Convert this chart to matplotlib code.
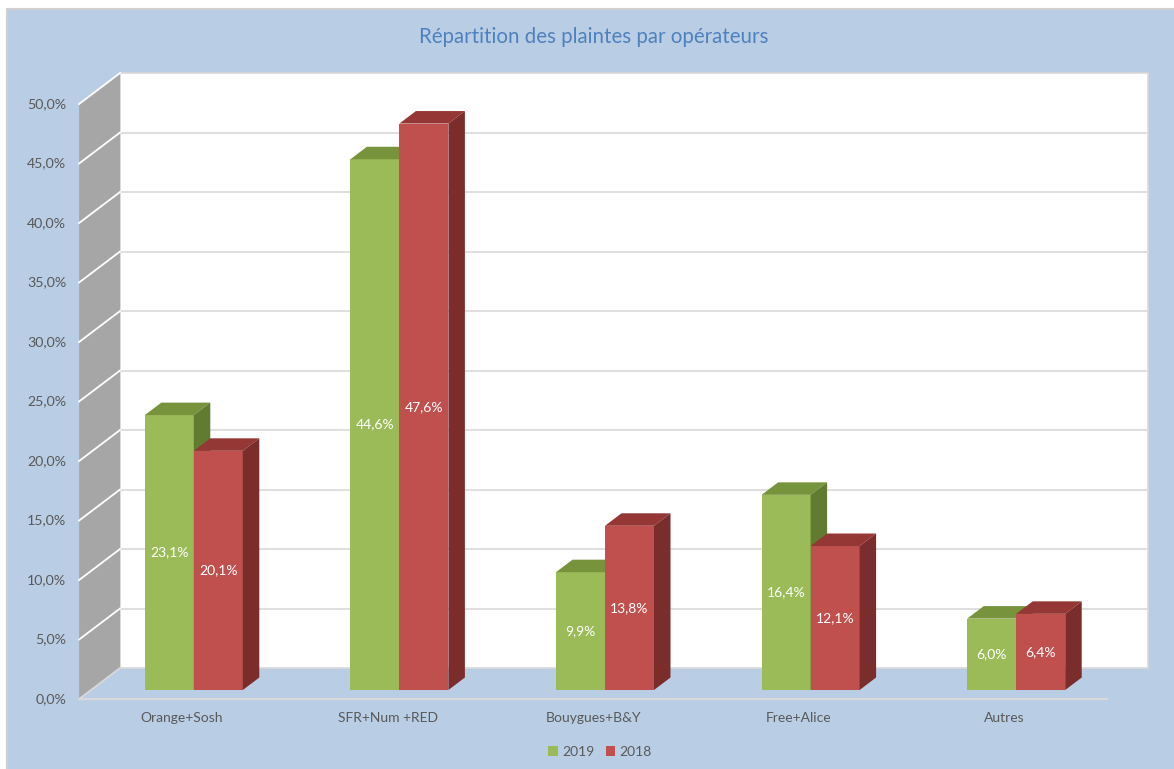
import matplotlib
matplotlib.use("Agg")
import matplotlib.pyplot as plt
from matplotlib.patches import Polygon, Rectangle
from matplotlib.lines import Line2D

plt.rcParams['font.family'] = ['Lato', 'DejaVu Sans']

# Data
categories = ["Orange+Sosh", "SFR+Num +RED", "Bouygues+B&Y", "Free+Alice", "Autres"]
values_2019 = [23.1, 44.6, 9.9, 16.4, 6.0]
values_2018 = [20.1, 47.6, 13.8, 12.1, 6.4]
series_labels = ["2019", "2018"]
yticks = [0, 5, 10, 15, 20, 25, 30, 35, 40, 45, 50]
title = "Répartition des plaintes par opérateurs"

# colours (front, top, side)
green = ("#9BBB59", "#77933C", "#617B31")
red = ("#C0504D", "#953735", "#7B2D2C")
bg = "#B9CDE5"
txt = "#595959"

W, H = 1174, 769
fig = plt.figure(figsize=(W / 100, H / 100), dpi=100, facecolor="white")
# chart area, grey border only on the left and top
fig.patches.append(Rectangle((7 / W, 0), 1 - 7 / W, 1 - 9 / H, transform=fig.transFigure,
                             facecolor=bg, edgecolor="none", zorder=-10))
fig.lines.append(Line2D([7 / W, 7 / W, 1], [0, 1 - 9 / H, 1 - 9 / H], transform=fig.transFigure,
                        color="#D0D0D0", lw=1.5, zorder=-9))

ax = fig.add_axes([91 / W, (H - 690) / H, 1028 / W, 595 / H])
ax.set_xlim(-0.5, len(categories) - 0.5)
ax.set_ylim(0, 50)
ax.axis("off")

SX = 1028 / len(categories)   # px per category
SY = 595 / 50                 # px per percent
K_FRONT, K_BAR, K_WALL = -9, 12.5, 22


def P(x, y, k):
    # oblique projection: shift by k px up and 1.32*k px right
    return (x + 1.32 * k / SX, y + k / SY)


x0, x1 = -0.5, len(categories) - 0.5
ymax = yticks[-1]

# back wall
ax.add_patch(Polygon([P(x0, 0, K_WALL), P(x1, 0, K_WALL), P(x1, ymax, K_WALL), P(x0, ymax, K_WALL)],
                     facecolor="white", edgecolor="#D9D9D9", lw=1.2, zorder=0, clip_on=False))
for v in yticks[1:-1]:
    a, b = P(x0, v, K_WALL), P(x1, v, K_WALL)
    ax.plot([a[0], b[0]], [a[1], b[1]], color="#D9D9D9", lw=1.2, zorder=1, clip_on=False)

# left side wall
ax.add_patch(Polygon([P(x0, 0, K_FRONT), P(x0, ymax, K_FRONT), P(x0, ymax, K_WALL), P(x0, 0, K_WALL)],
                     facecolor="#A6A6A6", edgecolor="none", zorder=0, clip_on=False))
for v in yticks[1:]:
    a, b = P(x0, v, K_FRONT), P(x0, v, K_WALL)
    ax.plot([a[0], b[0]], [a[1], b[1]], color="white", lw=1.3, zorder=1, clip_on=False)
a, b = P(x0, 0, K_FRONT), P(x0, 0, K_WALL)
ax.plot([a[0], b[0]], [a[1], b[1]], color="#D9D9D9", lw=1.3, zorder=1, clip_on=False)

# floor front edge
a, b = P(x0, 0, K_FRONT), P(x1, 0, K_FRONT)
ax.plot([a[0], b[0]], [a[1], b[1]], color="#D9D9D9", lw=1.5, zorder=1, clip_on=False)

# bars
w = 49 / SX
handles = []
for s, (vals, cols, lab) in enumerate([(values_2019, green, series_labels[0]),
                                       (values_2018, red, series_labels[1])]):
    xs = [i - w / 2 + s * w for i in range(len(vals))]
    bars = ax.bar(xs, vals, w, color=cols[0], label=lab, zorder=3 + s, clip_on=False)
    handles.append(bars)
    for xc, h in zip(xs, vals):
        l, r = xc - w / 2, xc + w / 2
        ax.add_patch(Polygon([P(l, h, 0), P(r, h, 0), P(r, h, K_BAR), P(l, h, K_BAR)],
                             facecolor=cols[1], edgecolor="none", zorder=3 + s, clip_on=False))
        ax.add_patch(Polygon([P(r, 0, 0), P(r, h, 0), P(r, h, K_BAR), P(r, 0, K_BAR)],
                             facecolor=cols[2], edgecolor="none", zorder=3 + s, clip_on=False))
        ax.text(xc, h / 2, f"{h:.1f}%".replace(".", ","), ha="center", va="center",
                color="white", fontsize=10, zorder=6)

# y tick labels on the front edge of the side wall
for v in yticks:
    px, py = P(x0, v, K_FRONT)
    ax.text(px - 13 / SX, py, f"{v:.1f}%".replace(".", ","), ha="right", va="center",
            color=txt, fontsize=10.2, clip_on=False)

# category labels
for i, c in enumerate(categories):
    px, py = P(i, 0, K_FRONT)
    ax.text(px, py - 19 / SY, c, ha="center", va="center", color=txt, fontsize=10, clip_on=False)

fig.text(594 / W, 1 - 37 / H, title, ha="center", va="center", color="#4F81BD", fontsize=14.8)

fig.legend(handles=handles, labels=series_labels, loc="center", bbox_to_anchor=(600 / W, 1 - 752 / H),
           ncol=2, frameon=False, handlelength=0.7, handleheight=0.7, handletextpad=0.3,
           columnspacing=0.8, fontsize=10, labelcolor=txt)

fig.savefig("out.png", dpi=100, facecolor=fig.get_facecolor())
